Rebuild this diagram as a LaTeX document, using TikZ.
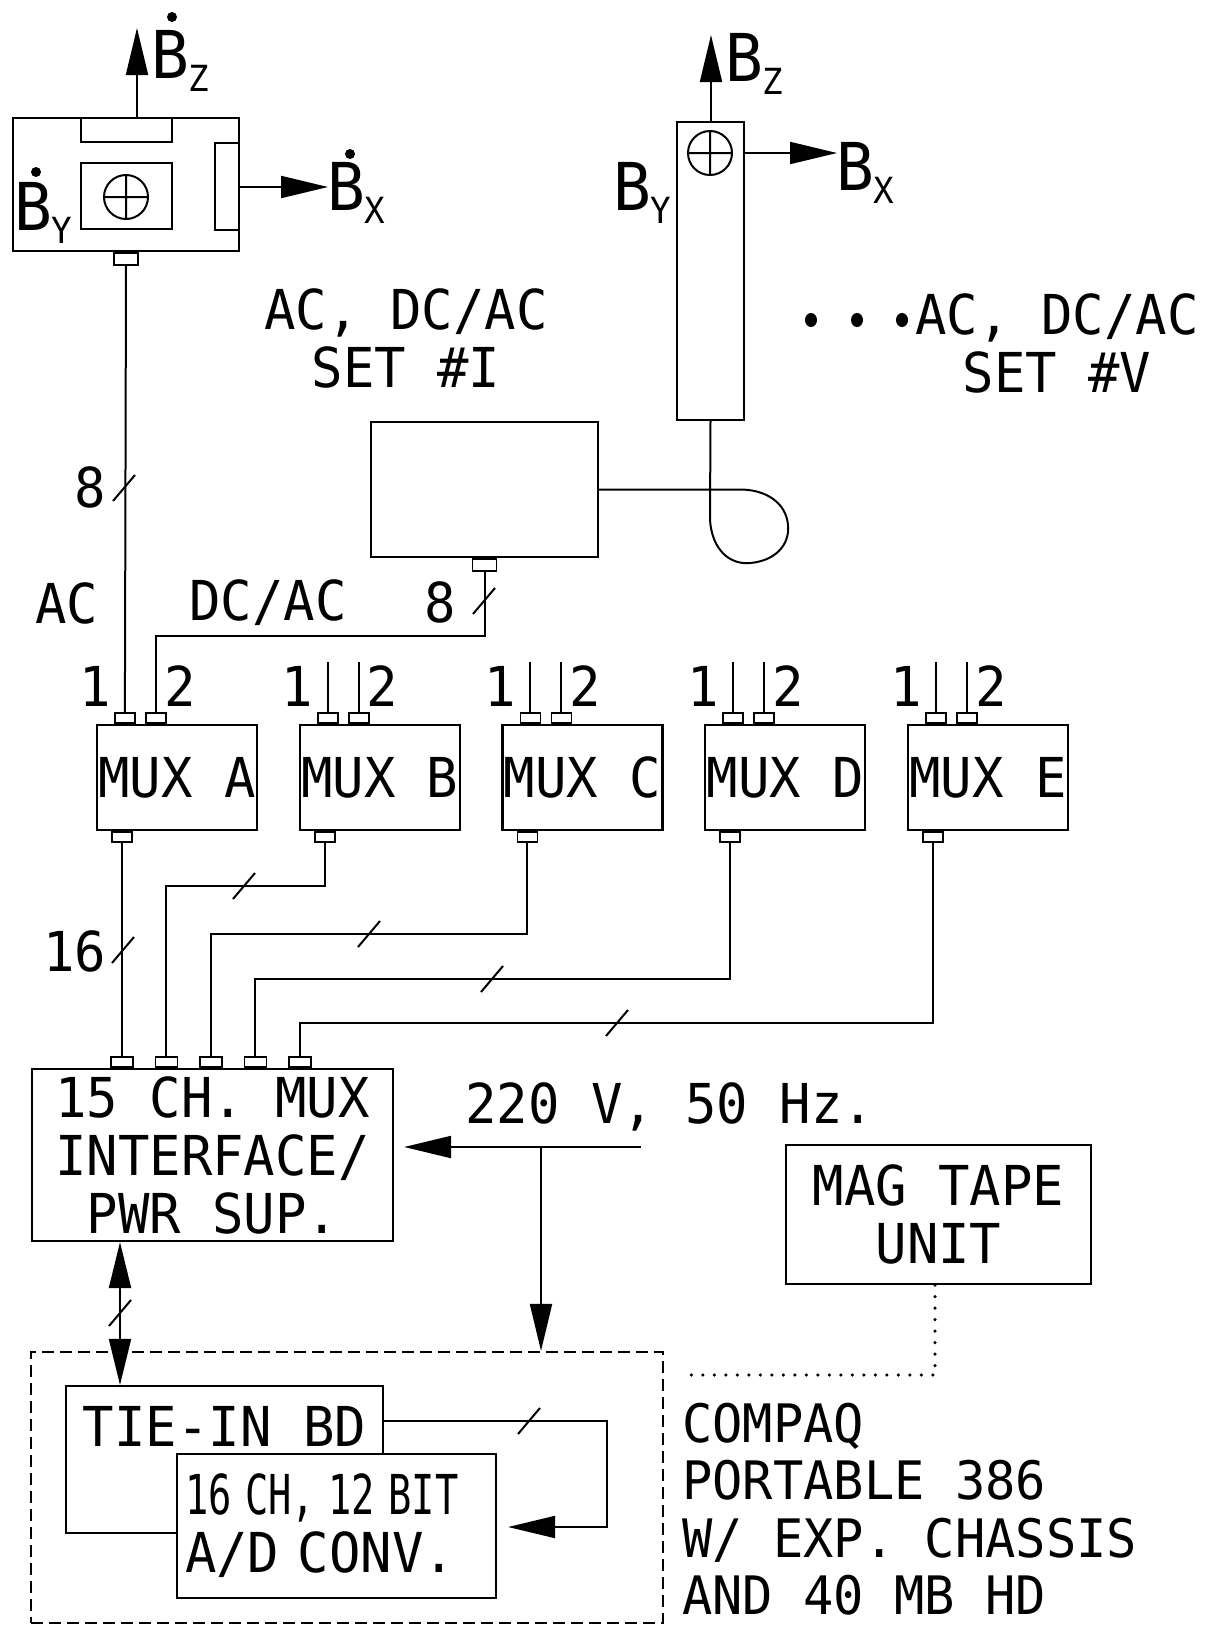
\documentclass[tikz,border=0pt]{standalone}
\usepackage{fontspec}
\usepackage{graphicx}
\usetikzlibrary{arrows.meta, positioning}
\newfontfamily\plotfont[FakeStretch=0.95]{DejaVu Sans Mono}
\tikzset{
	box/.style={
		rectangle,
		draw=black,
		line width=2.2pt,
		inner sep=0pt
	},
	port/.style={
		rectangle,
		draw=black,
		line width=1.8pt,
		minimum width=20pt,
		minimum height=10pt,
		inner sep=0pt
	},
	part/.style={
		line width=2.2pt
	},
	txt/.style={
		font=\plotfont\fontsize{55}{58}\selectfont,
		inner sep=0pt,
		align=center
	},
	blabel/.style={
		font=\plotfont\fontsize{66}{66}\selectfont,
		inner sep=0pt
	},
	wire/.style={
		line width=2pt
	},
	arrow/.style={
		wire,
		-{Triangle[length=47pt,width=22pt]}
	},
	darrow/.style={
		wire,
		{Triangle[length=46pt,width=22pt]}-{Triangle[length=46pt,width=22pt]}
	}
}
\newcommand{\bsub}[1]{\raisebox{-13pt}{\fontsize{36}{36}\selectfont #1}}
\newcommand{\busslash}[1]{\draw [wire] (#1) ++(-11,13) -- ++(22,-26);}

\begin{document}
\begin{tikzpicture}[x=1pt, y=-1pt]
	\useasboundingbox (0,0) rectangle (1215,1625);

	% sensor head, set I
	\node (headI)     [box, minimum width=226pt, minimum height=133pt] at (126,184.5) {};
	\node (headIport) [port, minimum width=24pt, minimum height=12pt, below=0pt of headI] {};
	\draw [part] (81,118) rectangle (172,142);
	\draw [part] (81,163) rectangle (172,229);
	\draw [part] (215,143) rectangle (239,230);
	\draw [wire] (126,197) circle (22pt) (104,197) -- (148,197) (126,175) -- (126,219);

	\coordinate (bzItip) at (137,28);
	\coordinate (bxItip) at (328,187);
	\draw [arrow] (headI.north -| bzItip) -- (bzItip);
	\draw [arrow] (headI.east |- bxItip) -- (bxItip);
	\node (bzI) [blabel, anchor=base west] at (151,78)  {B\bsub{Z}};
	\node (bxI) [blabel, anchor=base west] at (327,210) {B\bsub{X}};
	\node (byI) [blabel, anchor=base west] at (14,230)  {B\bsub{Y}};
	\fill (172,17) circle (5pt) (350,154) circle (5pt) (36,172) circle (5pt);

	% sensor head, set V
	\node (headV) [box, minimum width=67pt, minimum height=298pt] at (710.5,271) {};
	\draw [wire] (710,153) circle (22pt) (688,153) -- (732,153) (710,131) -- (710,175);
	\coordinate (bzVtip) at (711,35);
	\coordinate (bxVtip) at (837,153);
	\draw [arrow] (headV.north -| bzVtip) -- (bzVtip);
	\draw [arrow] (headV.east |- bxVtip) -- (bxVtip);
	\node (bzV) [blabel, anchor=base west] at (725,81)  {B\bsub{Z}};
	\node (bxV) [blabel, anchor=base west] at (836,190) {B\bsub{X}};
	\node (byV) [blabel, anchor=base west] at (613,210) {B\bsub{Y}};

	% set captions
	\node (setI) [txt, anchor=north] at (406,288)  {AC, DC/AC\\SET \#I};
	\node (setV) [txt, anchor=north] at (1057,293) {AC, DC/AC\\SET \#V};
	\foreach \x in {811,857,902}
		\fill (\x,320) ellipse (6pt and 7pt);

	% DC/AC electronics, set I
	\node (elecI)     [box, minimum width=227pt, minimum height=135pt] at (484.5,489.5) {};
	\node (elecIport) [port, minimum width=24pt, minimum height=12pt, below=0pt of elecI] {};
	\draw [wire] (headV.south) -- (710,520) .. controls (712,550) and (730,565) .. (750,563)
		.. controls (775,561) and (790,545) .. (788,525)
		.. controls (786,502) and (765,489.5) .. (740,489.5) -- (elecI.east);

	% multiplexers
	\foreach \l [count=\i from 0] in {A,B,C,D,E} {
		\node (mux\l)   [box, txt, minimum width=160pt, minimum height=105pt] at (177+202.75*\i,777.5) {MUX \l};
		\node (mux\l-1) [port, anchor=south] at ([xshift=29pt]mux\l.north west) {};
		\node (mux\l-2) [port, anchor=south] at ([xshift=60pt]mux\l.north west) {};
		\node (mux\l-o) [port, anchor=north] at ([xshift=26pt]mux\l.south west) {};
		\node [txt, above left=5pt and 14pt of mux\l-1.north]  {1};
		\node [txt, above right=5pt and 8pt of mux\l-2.north] {2};
	}
	\foreach \l in {B,C,D,E} {
		\draw [wire] (mux\l-1.north) -- ++(0,-50);
		\draw [wire] (mux\l-2.north) -- ++(0,-50);
	}

	% inputs of MUX A
	\coordinate (dcbend) at (0,636);
	\draw [wire] (headIport.south) -- (muxA-1.north);
	\draw [wire] (elecIport.south) -- (elecIport.south |- dcbend) -| (muxA-2.north);
	\busslash{124,488}
	\busslash{484,601}
	\node [txt] at (90,487)  {8};
	\node [txt] at (440,602) {8};
	\node [txt] at (67,603)  {AC};
	\node [txt] at (268,603) {DC/AC};

	% interface
	\node (iface) [box, txt, minimum width=361pt, minimum height=172pt] at (212.5,1155) {15 CH. MUX\\INTERFACE/\\PWR SUP.};
	\foreach \k [count=\j from 0] in {1,...,5}
		\node (iface-\k) [port, minimum width=22pt, anchor=south] at ([xshift={91pt+44.5pt*\j}]iface.north west) {};

	\draw [wire] (muxA-o.south) -- (iface-1.north);
	\foreach \l/\k/\y/\s in {B/2/886/244, C/3/934/369, D/4/979/492, E/5/1023/617} {
		\coordinate (bus\l) at (0,\y);
		\draw [wire] (mux\l-o.south) -- (mux\l-o.south |- bus\l) -| (iface-\k.north);
		\busslash{\s,\y}
	}
	\busslash{123,950}
	\node [txt] at (75,951) {16};

	% computer
	\node (compaq) [box, dash pattern=on 12pt off 6pt, minimum width=632pt, minimum height=271pt] at (347,1487.5) {};
	\node (tiein)  [box, minimum width=317pt, minimum height=147pt] at (224.5,1459.5) {};
	\node (tieinlabel) [txt, below=21pt of tiein.north] {TIE-IN BD};
	\node (adc) [box, txt, fill=white, text width=303pt, align=left, minimum width=319pt, minimum height=144pt] at (336.5,1526)
		{\scalebox{0.74}[1]{16 CH, 12 BIT}\\A/D CONV.};
	\node (compaqlabel) [txt, font=\plotfont\fontsize{53}{57.5}\selectfont, align=left, below right=52pt and 18pt of compaq.north east]
		{COMPAQ\\PORTABLE 386\\W/ EXP. CHASSIS\\AND 40 MB HD};

	\coordinate (tiebus) at (607,1421);
	\coordinate (adcin)  at (607,1527);
	\draw [arrow, shorten >=11pt] (tiein.east |- tiebus) -- (tiebus) -- (adcin) -- (adc.east |- adcin);
	\busslash{529,1421}

	\coordinate (linkx) at (120,0);
	\draw [darrow] (tiein.north -| linkx) -- (iface.south -| linkx);
	\busslash{120,1313}

	% power
	\node (mains) [txt, anchor=north west] at (465,1082) {220 V, 50 Hz.};
	\coordinate (pwr) at (641,1147);
	\coordinate (tap) at (541,1147);
	\draw [arrow, shorten >=10pt] (pwr) -- (iface.east |- pwr);
	\draw [arrow] (tap) -- (tap |- compaq.north);

	% tape unit
	\node (magtape) [box, txt, minimum width=305pt, minimum height=139pt] at (938.5,1214.5) {MAG TAPE\\UNIT};
	\coordinate (tapebend) at (935,1375);
	\draw [line width=3.5pt, dash pattern=on 0pt off 11.5pt, line cap=round]
		(magtape.south -| tapebend) -- (tapebend) -- ([xshift=16pt]compaq.east |- tapebend);

\end{tikzpicture}
\end{document}
